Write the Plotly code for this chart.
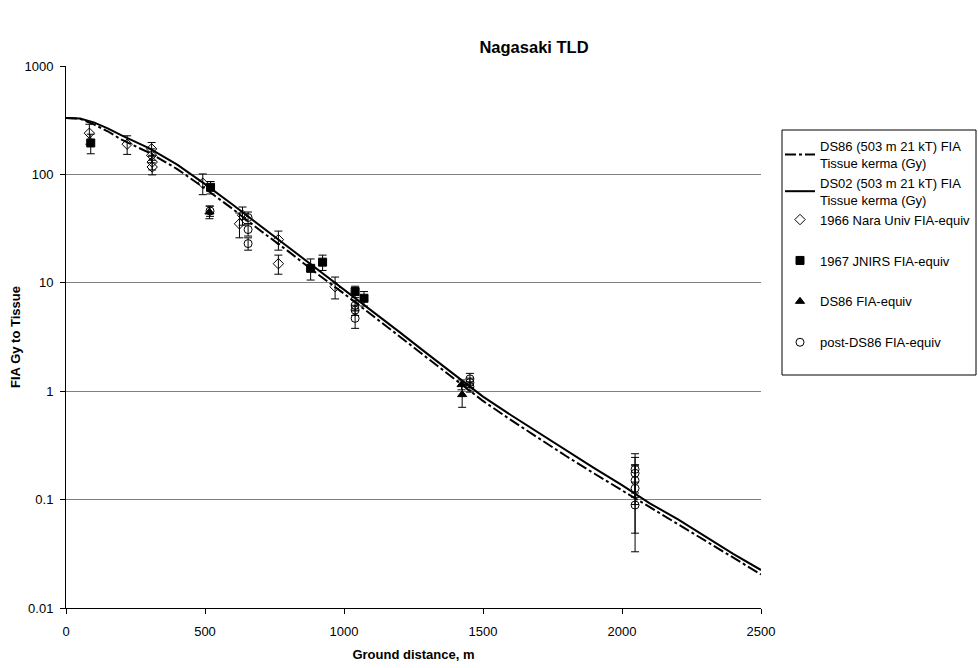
import plotly.graph_objects as go

# Model curves (Ground distance m, FIA tissue kerma Gy)
curve_x = [0, 50, 100, 150, 200, 300, 400, 500, 600, 700, 800, 900, 1000, 1100, 1200,
           1300, 1400, 1500, 1600, 1700, 1800, 1900, 2000, 2100, 2200, 2300, 2400, 2500]
ds86_y = [331, 326, 289, 250, 209, 158, 112, 74.1, 47.9, 30.2, 19.5, 12.3, 7.94, 5.07, 3.20,
          2.02, 1.27, 0.813, 0.543, 0.367, 0.251, 0.174, 0.122, 0.0851, 0.0603, 0.0417, 0.0295, 0.0204]
ds02_y = [331, 328, 302, 266, 229, 174, 123, 81.3, 52.5, 33.5, 21.4, 13.5, 8.71, 5.56, 3.51,
          2.21, 1.40, 0.891, 0.603, 0.412, 0.282, 0.195, 0.136, 0.0923, 0.0661, 0.0457, 0.0316, 0.0224]

# 1966 Nara Univ FIA-equiv
nara_x = [84, 220, 308, 308, 310, 310, 492, 624, 635, 764, 764, 968]
nara_y = [240, 190, 172, 150, 130, 117, 83, 35, 42, 25, 15, 9.2]
nara_e = [50, 37, 25, 22, 20, 18, 18, 9, 8, 5, 3, 2.1]

# 1967 JNIRS FIA-equiv
jnirs_x = [89, 520, 880, 923, 1040, 1072]
jnirs_y = [195, 76, 13.6, 15.5, 8.3, 7.2]
jnirs_e = [40, 10, 3, 2.5, 1.0, 1.1]

# DS86 FIA-equiv
ds86p_x = [516, 1423, 1425]
ds86p_y = [45, 1.15, 0.93]
ds86p_e = [6, 0.12, 0.22]

# post-DS86 FIA-equiv
post_x = [518, 655, 655, 655, 1040, 1040, 1040, 1453, 1453, 1453, 2047, 2047, 2047, 2047, 2047]
post_y = [46, 40, 31, 23, 6.2, 5.6, 4.7, 1.3, 1.2, 1.1, 0.19, 0.175, 0.15, 0.127, 0.089]
post_e = [5, 5, 4, 3, 0.7, 0.6, 0.9, 0.16, 0.12, 0.12, 0.075, 0.07, 0.06, 0.078, 0.056]

y_tickvals = [0.01, 0.1, 1, 10, 100, 1000]
y_ticktext = ["0.01", "0.1", "1", "10", "100", "1000"]
x_tickvals = [0, 500, 1000, 1500, 2000, 2500]

FONT = "Liberation Sans, Arial, sans-serif"
W, H = 978, 668

fig = go.Figure()

fig.add_trace(go.Scatter(x=curve_x, y=ds86_y, mode="lines",
                         name="DS86 (503 m 21 kT) FIA<br>Tissue kerma (Gy)",
                         line=dict(color="black", width=2, dash="11px,3px,3px,3px"),
                         legendgroup="a"))
fig.add_trace(go.Scatter(x=curve_x, y=ds02_y, mode="lines",
                         name="DS02 (503 m 21 kT) FIA<br>Tissue kerma (Gy)",
                         line=dict(color="black", width=2),
                         legendgroup="a"))

def pts(x, y, e, name, symbol, group):
    return go.Scatter(x=x, y=y, mode="markers", name=name, legendgroup=group,
                      marker=dict(symbol=symbol, size=8, color="black",
                                  line=dict(color="black", width=1)),
                      error_y=dict(type="data", array=e, visible=True,
                                   color="black", thickness=1, width=4))

fig.add_trace(pts(nara_x, nara_y, nara_e, "1966 Nara Univ FIA-equiv", "diamond-open", "a"))
fig.add_trace(pts(jnirs_x, jnirs_y, jnirs_e, "1967 JNIRS FIA-equiv", "square", "b"))
fig.add_trace(pts(ds86p_x, ds86p_y, ds86p_e, "DS86 FIA-equiv", "triangle-up", "c"))
fig.add_trace(pts(post_x, post_y, post_e, "post-DS86 FIA-equiv", "circle-open", "d"))

fig.update_layout(
    width=W, height=H, autosize=False,
    margin=dict(l=66, r=217, t=66, b=60),
    paper_bgcolor="white", plot_bgcolor="white",
    font=dict(family=FONT, size=13, color="black"),
    title=dict(text="<b>Nagasaki TLD</b>", x=534 / W, xref="container", xanchor="center",
               y=1 - 47 / H, yref="container", yanchor="middle",
               font=dict(size=16.5, family=FONT, color="black")),
    showlegend=True,
    legend=dict(xref="container", yref="container",
                x=780 / W, xanchor="left", y=1 - 131 / H, yanchor="top",
                bgcolor="rgba(0,0,0,0)", borderwidth=0,
                font=dict(size=13, family=FONT, color="black"),
                traceorder="grouped", tracegroupgap=21, itemwidth=30),
    shapes=[dict(type="rect", xref="paper", yref="paper",
                 x0=(782 - 66) / 695, x1=(976 - 66) / 695,
                 y0=(608 - 375) / 542, y1=(608 - 130) / 542,
                 line=dict(color="black", width=1), fillcolor="rgba(0,0,0,0)")],
)

fig.update_xaxes(range=[0, 2500], tickvals=x_tickvals, showgrid=False, zeroline=False,
                 showline=True, linecolor="black", linewidth=1,
                 ticks="outside", ticklen=5, tickcolor="black", ticklabelstandoff=6,
                 automargin=False,
                 title=dict(text="<b>Ground distance, m</b>", font=dict(size=13, family=FONT),
                            standoff=12),
                 tickfont=dict(size=13, family=FONT))
fig.update_yaxes(type="log", range=[-2, 3], tickvals=y_tickvals, ticktext=y_ticktext,
                 showgrid=True, gridcolor="#808080", gridwidth=1, zeroline=False,
                 showline=True, linecolor="black", linewidth=1,
                 ticks="outside", ticklen=5, tickcolor="black", ticklabelstandoff=4,
                 automargin=False,
                 title=dict(text="<b>FIA Gy to Tissue</b>", font=dict(size=13, family=FONT),
                            standoff=0),
                 tickfont=dict(size=13, family=FONT))

fig.write_html("out.html",
               config={"displayModeBar": False},
               post_script="document.body.style.margin='0';document.body.style.padding='0';"
                           "document.body.style.overflow='hidden';")
